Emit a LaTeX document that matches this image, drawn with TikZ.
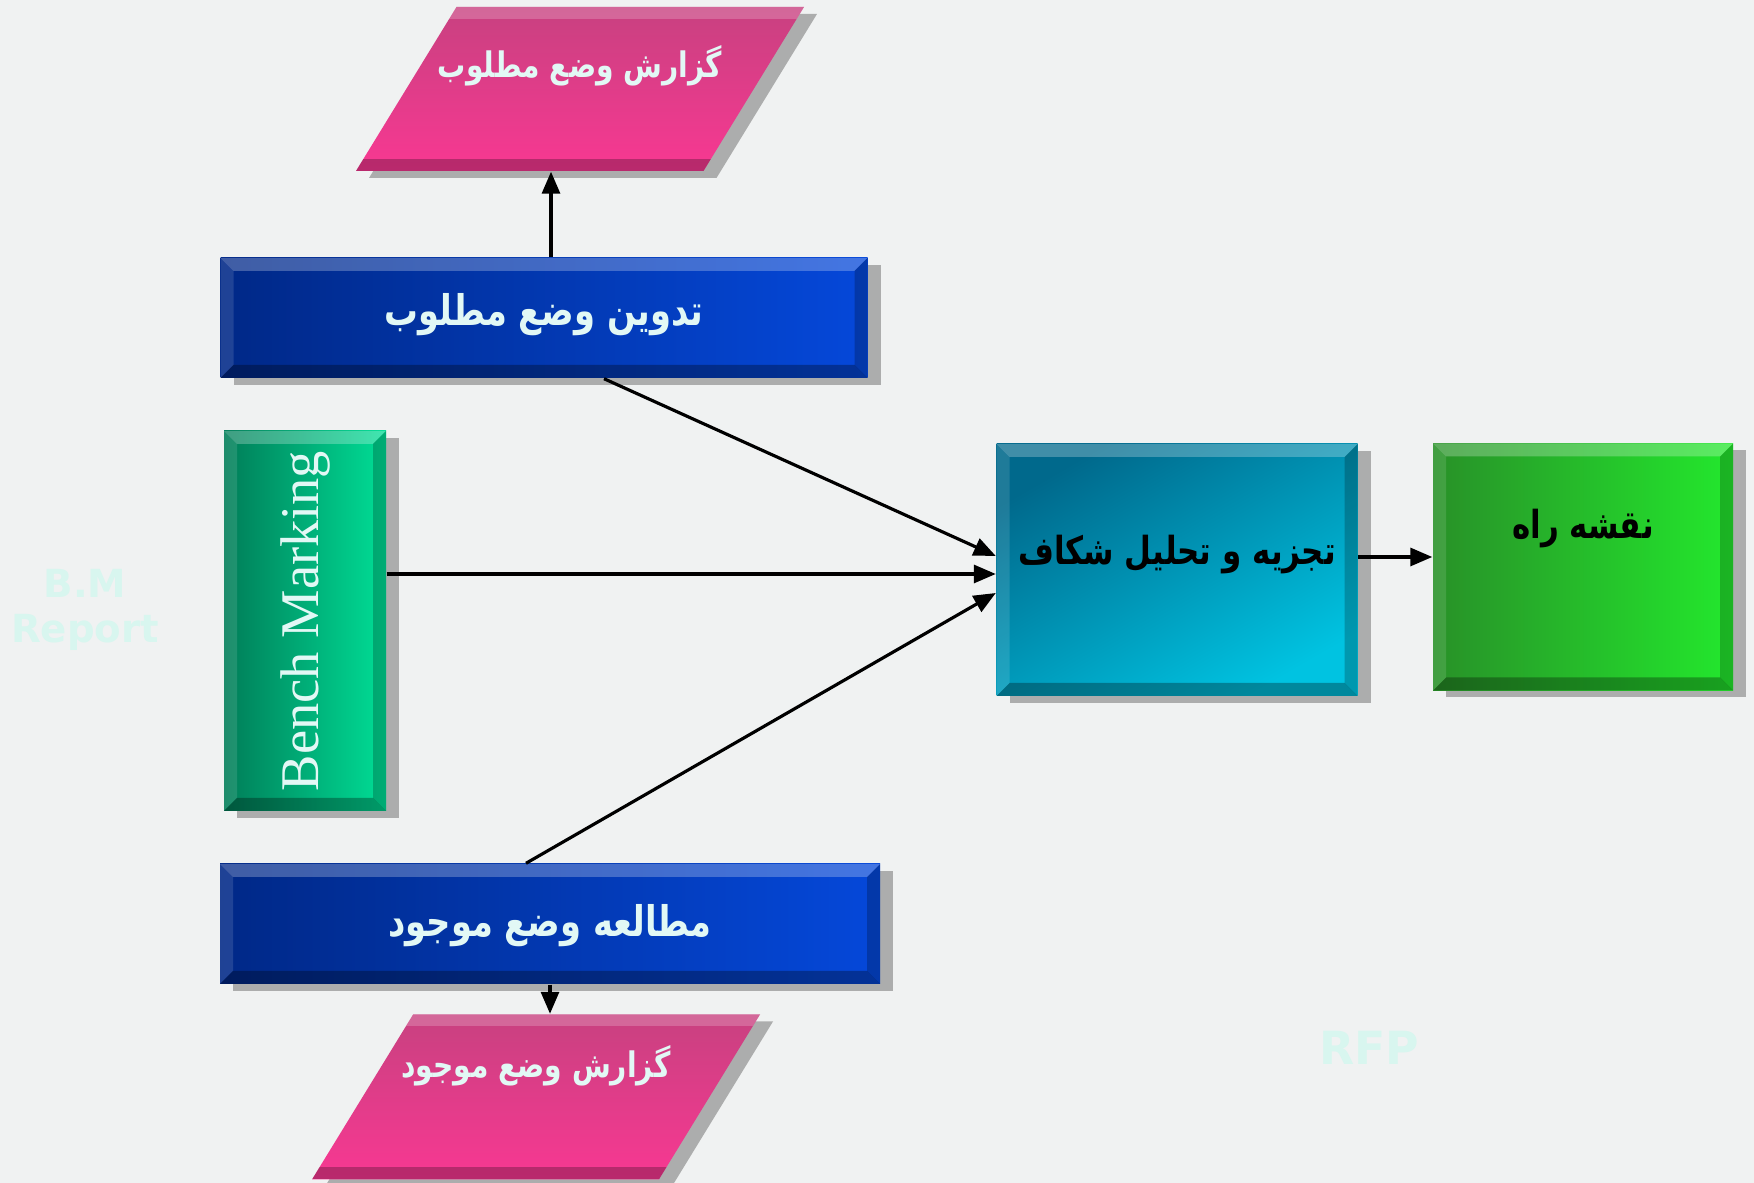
\documentclass[tikz,border=0pt]{standalone}
\usepackage{fontspec}
\setmainfont{Liberation Serif}
\newfontfamily\arabicfont[Script=Arabic, FakeStretch=0.8]{DejaVu Sans}
\newfontfamily\markfont{DejaVu Sans}
\TeXXeTstate=1
\usetikzlibrary{shapes.geometric,shadows,arrows.meta}
\definecolor{bgcolor}{RGB}{240,242,242}
\definecolor{navydark}{RGB}{0,40,135}
\definecolor{navylight}{RGB}{5,72,218}
\definecolor{pinkdark}{RGB}{200,65,128}
\definecolor{pinklight}{RGB}{248,56,146}
\definecolor{benchdark}{RGB}{0,125,88}
\definecolor{benchlight}{RGB}{0,222,150}
\definecolor{gapdark}{RGB}{0,105,140}
\definecolor{gaplight}{RGB}{0,195,225}
\definecolor{roaddark}{RGB}{40,145,40}
\definecolor{roadlight}{RGB}{35,232,45}
\definecolor{labeltext}{RGB}{226,248,245}
\definecolor{watermark}{RGB}{216,246,239}

\begin{document}
\begin{tikzpicture}[>={Triangle[length=0.22cm,width=0.18cm]}]
\tikzstyle{boxshadow} = [drop shadow={shadow xshift=0.13cm, shadow yshift=-0.07cm, opacity=0.6}]
\tikzstyle{bevel} = [path picture={
  \fill[white, opacity=0.25] (path picture bounding box.north west) -- (path picture bounding box.north east) -- ([shift={(-0.13,-0.13)}]path picture bounding box.north east) -- ([shift={(0.13,-0.13)}]path picture bounding box.north west) -- cycle;
  \fill[white, opacity=0.12] (path picture bounding box.north west) -- ([shift={(0.13,-0.13)}]path picture bounding box.north west) -- ([shift={(0.13,0.13)}]path picture bounding box.south west) -- (path picture bounding box.south west) -- cycle;
  \fill[black, opacity=0.3] (path picture bounding box.south west) -- (path picture bounding box.south east) -- ([shift={(-0.13,0.13)}]path picture bounding box.south east) -- ([shift={(0.13,0.13)}]path picture bounding box.south west) -- cycle;
  \fill[black, opacity=0.22] (path picture bounding box.north east) -- (path picture bounding box.south east) -- ([shift={(-0.13,0.13)}]path picture bounding box.south east) -- ([shift={(-0.13,-0.13)}]path picture bounding box.north east) -- cycle;
}]
\tikzstyle{slabbevel} = [path picture={
  \fill[white, opacity=0.2] (path picture bounding box.north west) rectangle ([yshift=-0.12cm]path picture bounding box.north east);
  \fill[black, opacity=0.25] (path picture bounding box.south west) rectangle ([yshift=0.12cm]path picture bounding box.south east);
}]
\tikzstyle{fatext} = [font=\arabicfont\bfseries\fontsize{12}{14}\selectfont, text height=0.35cm, text depth=0.1cm]
\tikzstyle{stepblock} = [rectangle, boxshadow, bevel, fatext, text=labeltext, left color=navydark, right color=navylight, minimum height=1.2cm]
\tikzstyle{report} = [trapezium, trapezium left angle=58.5, trapezium right angle=121.5, trapezium stretches body, boxshadow, slabbevel, fatext, font=\arabicfont\bfseries\fontsize{10}{12}\selectfont, inner sep=0.1cm, text=labeltext, top color=pinkdark, bottom color=pinklight, minimum width=4.48cm]
\tikzstyle{bench} = [rectangle, boxshadow, bevel, left color=benchdark, right color=benchlight, text=labeltext, minimum width=1.62cm, minimum height=3.8cm, font=\fontsize{15.5}{18}\selectfont]
\tikzstyle{gap} = [rectangle, boxshadow, bevel, fatext, font=\arabicfont\bfseries\fontsize{11}{13}\selectfont, top color=gapdark, bottom color=gaplight, shading angle=30, minimum width=3.61cm, minimum height=2.52cm, inner xsep=0.05cm]
\tikzstyle{roadmap} = [rectangle, boxshadow, bevel, fatext, font=\arabicfont\bfseries\fontsize{11}{13}\selectfont, left color=roaddark, right color=roadlight, minimum width=3cm, minimum height=2.47cm]
\tikzstyle{watermark} = [text=watermark, font=\markfont\bfseries\fontsize{11}{13}\selectfont, align=center]
\tikzstyle{link} = [->, line width=0.9pt]

\fill[bgcolor] (0,0) rectangle (17.54,11.83);
\useasboundingbox (0,0) rectangle (17.54,11.83);

\node(bmReport) [watermark] at (0.85,5.73) {B.M\\Report};
\node(rfp) [watermark, font=\markfont\bfseries\fontsize{13}{15}\selectfont] at (13.69,1.35) {RFP};

\node(reportGoal) [report, text height=0.605cm, text depth=0.835cm] at (5.80,10.94) {\makebox[0pt]{\beginR گزارش وضع مطلوب\endR}};
\node(planGoal) [stepblock, minimum width=6.47cm, text depth=0.19cm] at (5.44,8.65) {\beginR تدوین وضع مطلوب\endR};
\node(benchMark) [bench] at (3.05,5.62) {\rotatebox{90}{Bench Marking}};
\node(studyCurrent) [stepblock, minimum width=6.6cm] at (5.50,2.59) {\beginR مطالعه وضع موجود\endR};
\node(reportCurrent) [report, text height=0.535cm, text depth=0.915cm] at (5.36,0.86) {\makebox[0pt]{\beginR گزارش وضع موجود\endR}};
\node(gapAnalysis) [gap, text depth=0.46cm] at (11.77,6.13) {\beginR تجزیه و تحلیل شکاف\endR};
\node(roadMap) [roadmap, text depth=0.91cm] at (15.83,6.16) {\beginR نقشه راه\endR};

\draw[link] ([xshift=0.07cm]planGoal.north) -- ([xshift=0.07cm]planGoal.north |- reportGoal.south);
\draw[link] ([xshift=0.6cm]planGoal.south) -- ([yshift=0.14cm]gapAnalysis.west);
\draw[link] ([yshift=0.47cm]benchMark.east) -- ([yshift=0.47cm]benchMark.east -| gapAnalysis.west);
\draw[link] ([xshift=-0.24cm]studyCurrent.north) -- ([yshift=-0.23cm]gapAnalysis.west);
\draw[link] (studyCurrent.south) -- (studyCurrent.south |- reportCurrent.north);
\draw[link] ([yshift=0.13cm]gapAnalysis.east) -- ([yshift=0.13cm]gapAnalysis.east -| roadMap.west);
\end{tikzpicture}
\end{document}
